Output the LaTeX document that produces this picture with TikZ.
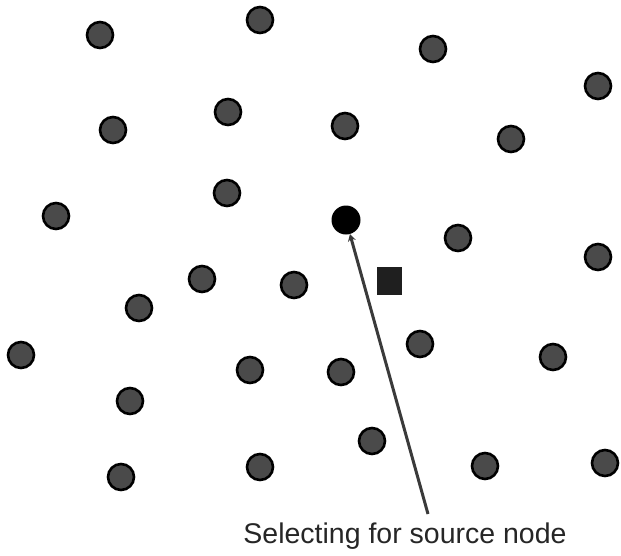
\documentclass[tikz,border=0pt]{standalone}
\usepackage{fontspec}
\setmainfont{Liberation Sans}
\usetikzlibrary{arrows.meta}
\definecolor{nodegray}{HTML}{4A4A4A}
\definecolor{arrowgray}{HTML}{3A3A3A}
\tikzset{
  dot/.style={circle, draw=black, line width=2.6pt, fill=nodegray, minimum size=26pt, inner sep=0pt},
  srcdot/.style={circle, fill=black, minimum size=29pt, inner sep=0pt},
  sqbox/.style={rectangle, fill=black!88, minimum width=25pt, minimum height=28pt, inner sep=0pt},
  pointer/.style={draw=arrowgray, line width=3pt, -{Stealth[length=7pt,width=8pt]}},
  caption/.style={font=\fontsize{28.5}{32}\selectfont, text=black!85, inner sep=0pt}
}
\begin{document}
\begin{tikzpicture}[x=1pt,y=-1pt]
\useasboundingbox (0,0) rectangle (621,555);
\node[dot] (n1) at (100,35) {};
\node[dot] (n2) at (260,20) {};
\node[dot] (n3) at (433,49) {};
\node[dot] (n4) at (598,86) {};
\node[dot] (n5) at (113,130) {};
\node[dot] (n6) at (228,112) {};
\node[dot] (n7) at (345,126) {};
\node[dot] (n8) at (511,139) {};
\node[dot] (n9) at (56,216) {};
\node[dot] (n10) at (227,193) {};
\node[srcdot] (src) at (346,220) {};
\node[dot] (n12) at (458,238) {};
\node[dot] (n13) at (598,257) {};
\node[dot] (n14) at (202,279) {};
\node[dot] (n15) at (294,285) {};
\node[sqbox] (sq) at (389,281) {};
\node[dot] (n17) at (139,308) {};
\node[dot] (n18) at (21,355) {};
\node[dot] (n19) at (250,370) {};
\node[dot] (n20) at (341,372) {};
\node[dot] (n21) at (420,344) {};
\node[dot] (n22) at (553,357) {};
\node[dot] (n23) at (130,401) {};
\node[dot] (n24) at (372,441) {};
\node[dot] (n25) at (121,477) {};
\node[dot] (n26) at (260,467) {};
\node[dot] (n27) at (485,466) {};
\node[dot] (n28) at (605,463) {};
\coordinate (tail) at (428,514);
\draw[pointer] (tail) -- (src);
\node[caption] (lab) at (405,536) {Selecting for source node};
\end{tikzpicture}
\end{document}
